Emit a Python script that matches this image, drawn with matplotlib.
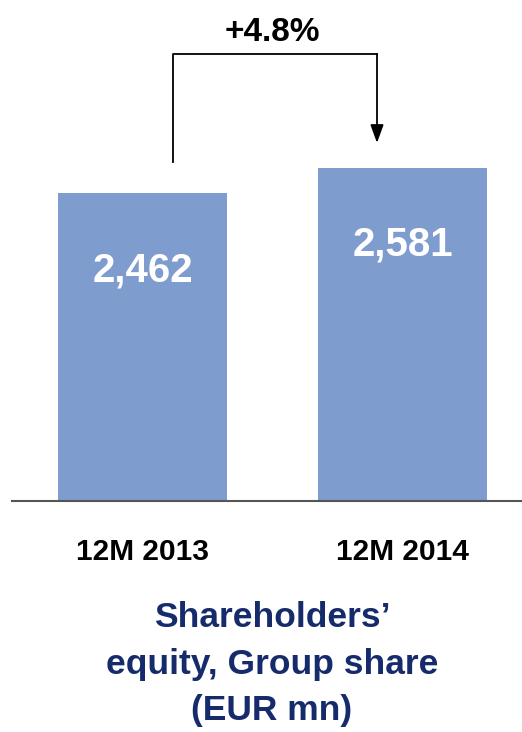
import matplotlib
matplotlib.use("Agg")
import matplotlib.pyplot as plt
from matplotlib.transforms import blended_transform_factory

categories = ["12M 2013", "12M 2014"]
values = [2462, 2581]
title_lines = ["Shareholders\u2019", "equity, Group share", "(EUR mn)"]

plt.rcParams['font.family'] = ['Liberation Sans', 'DejaVu Sans']

W, H = 522, 732
fig = plt.figure(figsize=(W / 100, H / 100), dpi=100)
ax = fig.add_axes([12 / W, 231 / H, 510 / W, 501 / H])

s = 308 / (values[0] - 1000)  # px per unit
ax.set_ylim(1000, 1000 + 501 / s)
ax.set_xlim(-130.5 / 260, 379.5 / 260)

x = list(range(len(categories)))
ax.bar(x, values, width=169 / 260, color="#7F9CCF", zorder=2)

for xi, v in zip(x, values):
    ax.text(xi, v - 88 / s, f"{v:,}", ha="center", va="baseline",
            color="white", fontsize=29, fontweight="bold")

for sp in ["left", "right", "top"]:
    ax.spines[sp].set_visible(False)
ax.spines["bottom"].set_color("#555555")
ax.spines["bottom"].set_linewidth(1.5)
ax.set_yticks([])
ax.set_xticks(x)
ax.set_xticklabels([])
ax.tick_params(axis="x", length=0)
tr = blended_transform_factory(ax.transData, fig.transFigure)
for xi, c in zip(x, categories):
    ax.text(xi, 1 - 560 / H, c, transform=tr, ha="center", va="baseline",
            fontsize=21.5, fontweight="bold", color="black")

# growth bracket
growth = (values[1] / values[0] - 1) * 100
xl = (173 - 142.5) / 260
xr = 1 + (377 - 402.5) / 260
y_top = values[1] + (168 - 54) / s
ax.plot([xl, xl, xr], [values[0] + 31 / s, y_top, y_top], color="black", lw=1.3, clip_on=False)
ax.annotate("", xy=(xr, values[1] + 25 / s), xytext=(xr, y_top),
            arrowprops=dict(arrowstyle="-|>,head_width=0.4,head_length=1.1",
                            color="black", lw=1.3, shrinkA=0, shrinkB=0),
            annotation_clip=False)
ax.text(0.5, values[1] + (168 - 41) / s, f"+{growth:.1f}%", ha="center", va="baseline",
        fontsize=24, fontweight="bold", color="black")

baselines = [627, 674, 720]
for line, b in zip(title_lines, baselines):
    fig.text(272 / W, 1 - b / H, line, ha="center", va="baseline",
             fontsize=25.5, fontweight="bold", color="#162B6B")

fig.savefig("out.png", dpi=100)
